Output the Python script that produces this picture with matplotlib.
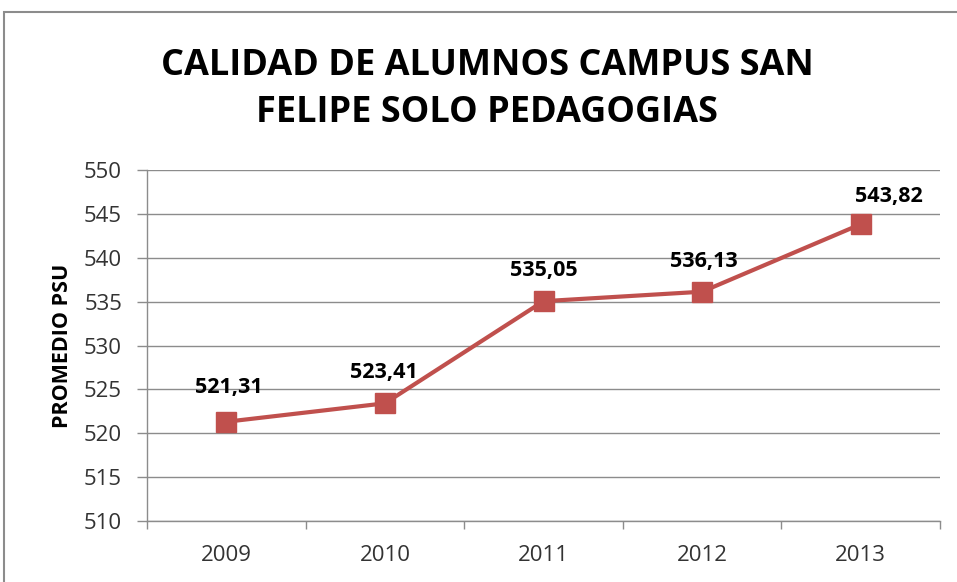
import matplotlib
matplotlib.use("Agg")
import matplotlib.pyplot as plt
from matplotlib.patches import Rectangle

# Data
years = ["2009", "2010", "2011", "2012", "2013"]
promedio = [521.31, 523.41, 535.05, 536.13, 543.82]
labels = ["521,31", "523,41", "535,05", "536,13", "543,82"]
y_ticks = [510, 515, 520, 525, 530, 535, 540, 545, 550]

RED = "#C0504D"
GRID = "#8C8C8C"
FONT = ["Open Sans", "DejaVu Sans"]

plt.rcParams["font.family"] = FONT

fig = plt.figure(figsize=(9.57, 5.82), dpi=100)
ax = fig.add_axes([147 / 957, 1 - 521 / 582, 793 / 957, 351 / 582])

x = list(range(len(years)))
ax.plot(x, promedio, color=RED, linewidth=3, marker="s", markersize=15,
        markerfacecolor=RED, markeredgecolor=RED, zorder=3)

# data labels (Excel-style, last one pushed to the right)
offsets = [(2, 25), (-1, 22), (0, 22), (1, 22), (20, 20)]
for xi, yi, txt, off in zip(x, promedio, labels, offsets):
    ax.annotate(txt, (xi, yi), xytext=off, textcoords="offset points",
                ha="center", va="center", fontsize=15.5, fontweight="bold",
                color="black")

ax.set_xlim(-0.5, len(years) - 0.5)
ax.set_ylim(510, 550)
ax.set_yticks(y_ticks)
ax.set_yticklabels([str(v) for v in y_ticks], fontsize=16, color="#333333")
ax.yaxis.grid(True, color=GRID, linewidth=1)
ax.set_axisbelow(True)

ax.set_xticks(x)
ax.set_xticklabels(years, fontsize=16, color="#333333")
ax.set_xticks([i - 0.5 for i in range(len(years) + 1)], minor=True)
ax.tick_params(axis="x", which="major", length=0, pad=17)
ax.tick_params(axis="x", which="minor", length=6, color=GRID, width=1, direction="out")
ax.tick_params(axis="y", length=7, color=GRID, width=1, pad=11)

for side in ["top", "right"]:
    ax.spines[side].set_visible(False)
for side in ["left", "bottom"]:
    ax.spines[side].set_color(GRID)
    ax.spines[side].set_linewidth(1)

ax.set_ylabel("PROMEDIO PSU", fontsize=15.5, fontweight="bold", labelpad=8)

fig.text(487 / 957, 1 - 66 / 582, "CALIDAD DE ALUMNOS CAMPUS SAN",
         ha="center", va="center", fontsize=26, fontweight="bold")
fig.text(487 / 957, 1 - 113 / 582, "FELIPE SOLO PEDAGOGIAS",
         ha="center", va="center", fontsize=26, fontweight="bold")

# chart border
fig.patches.append(Rectangle((4 / 957, -0.05), 1.2, 1 - 12 / 582 + 0.05,
                             transform=fig.transFigure, fill=False,
                             edgecolor="#8C8C8C", linewidth=1.5))

fig.savefig("out.png", dpi=100)
